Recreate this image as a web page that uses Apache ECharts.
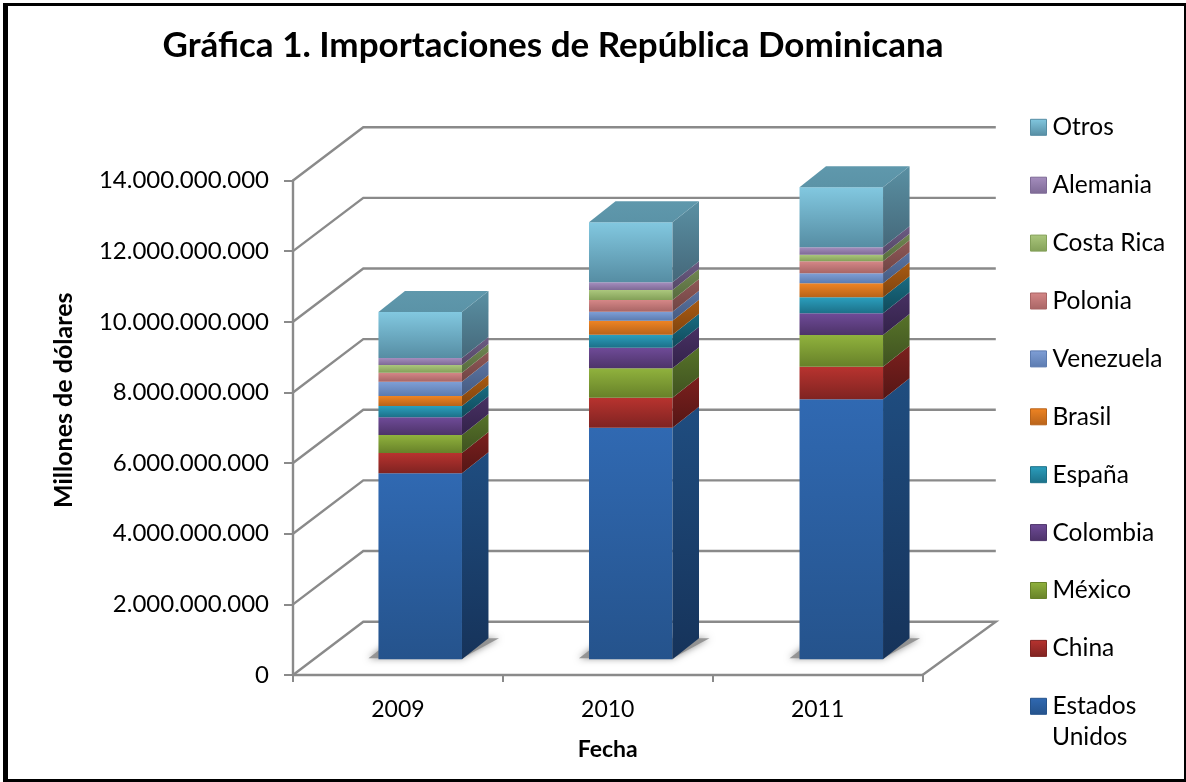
<!DOCTYPE html>
<html>
<head>
<meta charset="utf-8">
<style>html,body{margin:0;padding:0;background:#fff}#c{width:1186px;height:782px}</style>
<script src="https://cdn.jsdelivr.net/npm/echarts@6/dist/echarts.min.js"></script>
</head>
<body>
<div id="c"></div>
<script>
var years = ['2009', '2010', '2011'];
var yTicks = [0, 2e9, 4e9, 6e9, 8e9, 10e9, 12e9, 14e9];
var estadosUnidos = [5.266e9, 6.557e9, 7.361e9];
var china = [0.575e9, 0.849e9, 0.923e9];
var mexico = [0.510e9, 0.832e9, 0.898e9];
var colombia = [0.500e9, 0.583e9, 0.614e9];
var espana = [0.320e9, 0.368e9, 0.453e9];
var brasil = [0.283e9, 0.396e9, 0.396e9];
var venezuela = [0.405e9, 0.255e9, 0.283e9];
var polonia = [0.255e9, 0.331e9, 0.340e9];
var costaRica = [0.218e9, 0.283e9, 0.187e9];
var alemania = [0.198e9, 0.218e9, 0.210e9];
var otros = [1.302e9, 1.700e9, 1.699e9];

var names = ['Estados Unidos','China','México','Colombia','España','Brasil','Venezuela','Polonia','Costa Rica','Alemania','Otros'];
var values = [estadosUnidos,china,mexico,colombia,espana,brasil,venezuela,polonia,costaRica,alemania,otros];
var frontTop = ['#3069b2','#b8332f','#90b23d','#6f4b98','#2b9fbe','#ef8423','#7f9fd6','#d58787','#abc77d','#a58ebe','#82c8e0'];
var frontBot = ['#25538c','#7f2321','#678129','#4d3369','#1c7088','#b8631a','#5c7bb0','#a86565','#83a058','#7e6a96','#568da3'];
var sideTop  = ['#1f4d80','#7c201e','#577329','#483163','#1a6c82','#a95b12','#5a74a2','#905857','#718752','#6d5c84','#5a90a3'];
var sideBot  = ['#16335a','#551615','#3f5220','#33224a','#104a5b','#80440e','#465a80','#704544','#566a3e','#544766','#45687a'];
var FONT = 'Lato';
var GRID = '#8a8a8a';

function grad(a, b) {
  return new echarts.graphic.LinearGradient(0, 0, 0, 1, [{offset:0,color:a},{offset:1,color:b}]);
}
function fmt(v) {
  return String(v).replace(/\B(?=(\d{3})+(?!\d))/g, '.');
}

// bar geometry relative to the category band
var BAR_RATIO = 0.398, SHIFT_X = 22.3, SHIFT_STEP = 0.7, SHIFT_Y = -15.7, DEPTH_X = 26.5, DEPTH_Y = -21;
var WALL_LX = 70.3, WALL_RX = 73.3, WALL_Y = -53.3;

function wallItem(params, api) {
  var cs = params.coordSys;
  var v = api.value(0);
  var y = api.coord([0, v])[1];
  var l = cs.x, r = cs.x + cs.width;
  var kids = [{
    type: 'polyline',
    shape: {points: [[l, y], [l + WALL_LX, y + WALL_Y], [r + WALL_RX, y + WALL_Y]].concat(v === 0 ? [[r, y]] : [])},
    style: {stroke: GRID, lineWidth: 2.4, fill: null}
  }];
  return {type: 'group', children: kids};
}

function shadowItem(params, api) {
  var i = api.value(0);
  var c = api.coord([i, 0]);
  var w = api.size([1, 0])[0] * BAR_RATIO;
  var xL = c[0] + SHIFT_X + i * SHIFT_STEP - w / 2, xR = xL + w, yB = c[1] + SHIFT_Y;
  return {
    type: 'polygon',
    shape: {points: [[xL - 10, yB - 1], [xR, yB - 1], [xR + 37, yB - 21], [xL + 16, yB - 21]]},
    style: {fill: '#8e8e8e', shadowBlur: 7, shadowColor: '#808080', opacity: 0.9}
  };
}

function barItem(k) {
  return function (params, api) {
    var i = api.value(0);
    var p0 = api.coord([i, api.value(1)]);
    var p1 = api.coord([i, api.value(2)]);
    var w = api.size([1, 0])[0] * BAR_RATIO;
    var xL = p0[0] + SHIFT_X + i * SHIFT_STEP - w / 2, xR = xL + w;
    var y0 = p0[1] + SHIFT_Y, y1 = p1[1] + SHIFT_Y;
    var kids = [
      {type: 'rect', shape: {x: xL, y: y1, width: w, height: y0 - y1},
       style: {fill: grad(frontTop[k], frontBot[k])}},
      {type: 'polygon',
       shape: {points: [[xR, y0], [xR + DEPTH_X, y0 + DEPTH_Y], [xR + DEPTH_X, y1 + DEPTH_Y], [xR, y1]]},
       style: {fill: grad(sideTop[k], sideBot[k])}}
    ];
    if (k === names.length - 1) {
      kids.push({type: 'polygon',
        shape: {points: [[xL, y1], [xR, y1], [xR + DEPTH_X, y1 + DEPTH_Y], [xL + DEPTH_X, y1 + DEPTH_Y]]},
        style: {fill: grad('#5f98ac', '#5b93a7')}});
    }
    return {type: 'group', children: kids};
  };
}

var series = [
  {type: 'custom', name: 'paredes', silent: true, z: 1, renderItem: wallItem,
   data: yTicks.map(function (t) { return [t]; })},
  {type: 'custom', name: 'sombra', silent: true, z: 2, renderItem: shadowItem, encode: {x: 0, y: 1},
   data: years.map(function (y, i) { return [i, 0]; })}
];
var cumulative = years.map(function () { return 0; });
names.forEach(function (n, k) {
  var rows = years.map(function (y, i) {
    var s = cumulative[i], e = s + values[k][i];
    cumulative[i] = e;
    return [i, s, e];
  });
  series.push({type: 'custom', name: n, silent: true, z: 3 + k, renderItem: barItem(k),
    encode: {x: 0, y: [1, 2]}, itemStyle: {color: frontTop[k]}, data: rows});
});

var option = {
  animation: false,
  backgroundColor: '#fff',
  textStyle: {fontFamily: FONT, color: '#000'},
  title: {text: 'Gráfica 1. Importaciones de República Dominicana', left: 548, top: 23, textAlign: 'center',
    textStyle: {fontFamily: FONT, fontWeight: 'bold', fontSize: 35, color: '#000'}},
  grid: {left: 293, top: 180.5, width: 629.5, height: 494.5, containLabel: false},
  xAxis: {type: 'category', data: years, name: 'Fecha', nameLocation: 'middle', nameGap: 63,
    nameTextStyle: {fontFamily: FONT, fontWeight: 'bold', fontSize: 23, color: '#000'},
    axisLine: {show: true, lineStyle: {color: GRID, width: 2.4}},
    axisTick: {show: true, length: 7, lineStyle: {color: GRID, width: 2}},
    axisLabel: {fontFamily: FONT, fontSize: 23, color: '#000', margin: 23}},
  yAxis: {type: 'value', min: 0, max: 14e9, interval: 2e9, name: 'Millones de dólares',
    nameLocation: 'middle', nameGap: 217, nameRotate: 90,
    nameTextStyle: {fontFamily: FONT, fontWeight: 'bold', fontSize: 25, color: '#000', padding: [0, 0, 0, 55]},
    splitLine: {show: false},
    axisLine: {show: true, lineStyle: {color: GRID, width: 2.4}},
    axisTick: {show: true, length: 9, lineStyle: {color: GRID, width: 2}},
    axisLabel: {fontFamily: FONT, fontSize: 24, color: '#000', margin: 24, padding: [9, 0, 0, 0], formatter: fmt}},
  legend: {orient: 'vertical', left: 1030, top: 114.8, padding: 0, itemWidth: 16, itemHeight: 16, itemGap: 32.9,
    selectedMode: false, icon: 'rect',
    textStyle: {fontFamily: FONT, fontSize: 24.5, color: '#000', padding: [0, 0, 0, 1]},
    formatter: function (n) { return n === 'Estados Unidos' ? 'Estados' : n; },
    data: names.slice().reverse().map(function (n) {
      var k = names.indexOf(n);
      return {name: n, itemStyle: {color: grad(frontTop[k], frontBot[k]), borderColor: frontBot[k], borderWidth: 1}};
    })},
  graphic: [
    {type: 'text', left: 1052, top: 725, z: 50,
     style: {text: 'Unidos', fontFamily: FONT, fontSize: 24.5, fill: '#000'}},
    {type: 'rect', z: 60, shape: {x: 3, y: 3, width: 5, height: 779}, style: {fill: '#000'}},
    {type: 'rect', z: 60, shape: {x: 3, y: 3, width: 1183, height: 3}, style: {fill: '#000'}},
    {type: 'rect', z: 60, shape: {x: 1184, y: 3, width: 2, height: 779}, style: {fill: '#000'}},
    {type: 'rect', z: 60, shape: {x: 3, y: 779, width: 1183, height: 3}, style: {fill: '#000'}}
  ],
  series: series
};
var chart = echarts.init(document.getElementById('c'), null, {renderer: 'canvas', width: 1186, height: 782});
chart.setOption(option);
</script>
</body>
</html>
